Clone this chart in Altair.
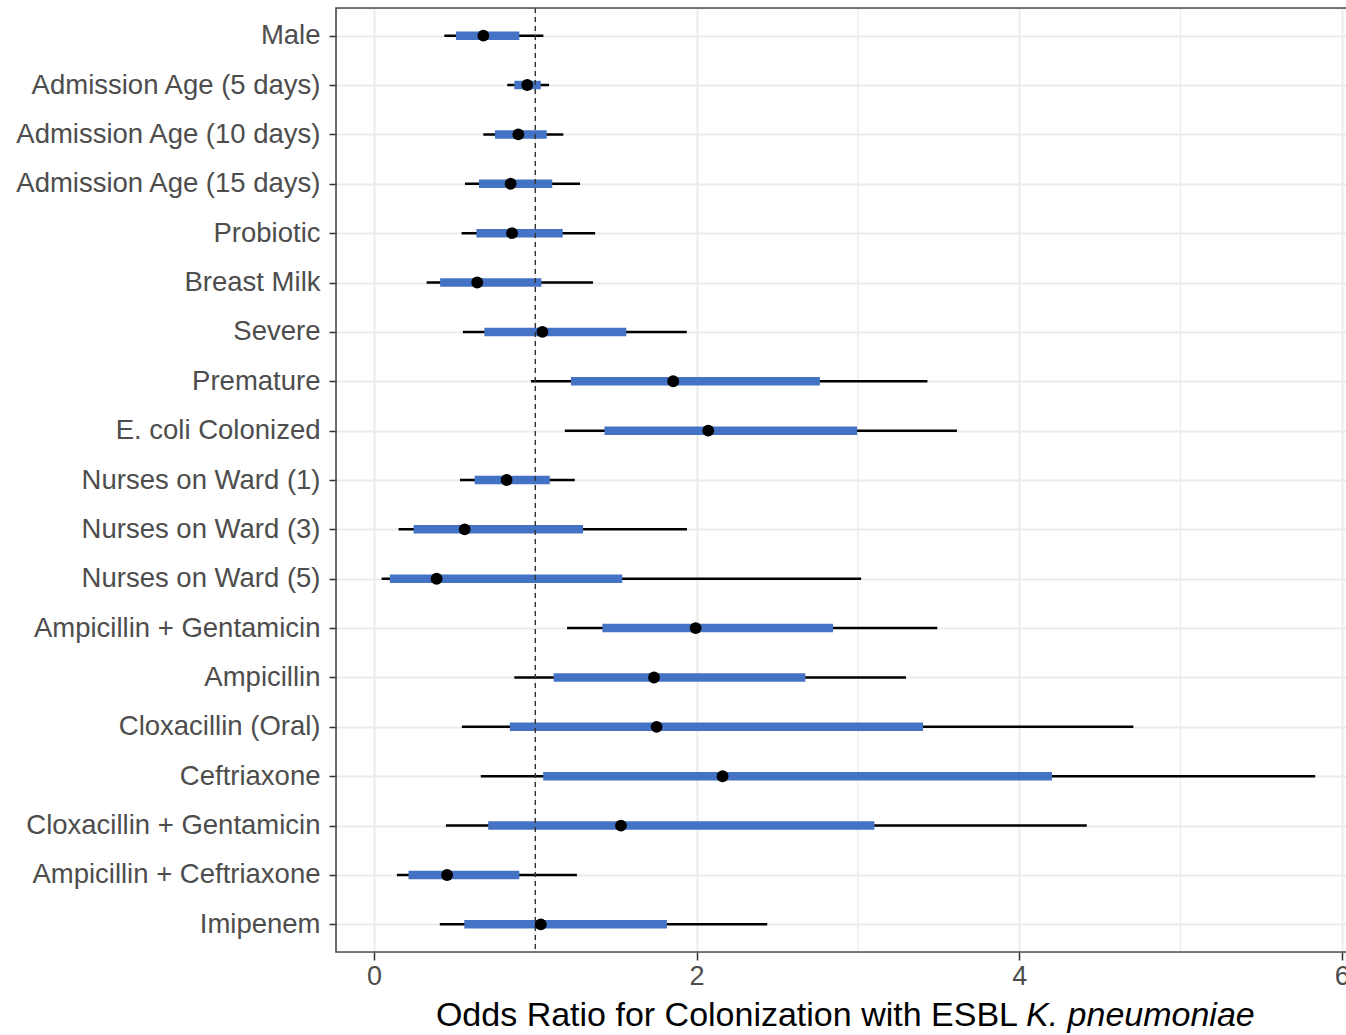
import altair as alt
import pandas as pd

labels = ["Male", "Admission Age (5 days)", "Admission Age (10 days)", "Admission Age (15 days)",
          "Probiotic", "Breast Milk", "Severe", "Premature", "E. coli Colonized",
          "Nurses on Ward (1)", "Nurses on Ward (3)", "Nurses on Ward (5)",
          "Ampicillin + Gentamicin", "Ampicillin", "Cloxacillin (Oral)", "Ceftriaxone",
          "Cloxacillin + Gentamicin", "Ampicillin + Ceftriaxone", "Imipenem"]
estimate = [0.678, 0.950, 0.895, 0.847, 0.856, 0.640, 1.044, 1.855, 2.072,
            0.822, 0.562, 0.388, 1.994, 1.736, 1.752, 2.161, 1.531, 0.453, 1.034]
lo95 = [0.436, 0.826, 0.678, 0.564, 0.543, 0.326, 0.551, 0.973, 1.183,
        0.533, 0.152, 0.047, 1.197, 0.870, 0.545, 0.662, 0.446, 0.142, 0.408]
hi95 = [1.050, 1.085, 1.174, 1.277, 1.371, 1.358, 1.939, 3.431, 3.614,
        1.245, 1.940, 3.020, 3.492, 3.298, 4.708, 5.835, 4.419, 1.258, 2.438]
lo50 = [0.508, 0.870, 0.750, 0.651, 0.635, 0.410, 0.684, 1.221, 1.429,
        0.624, 0.246, 0.098, 1.416, 1.114, 0.842, 1.049, 0.708, 0.214, 0.560]
hi50 = [0.901, 1.034, 1.071, 1.105, 1.170, 1.038, 1.564, 2.764, 2.995,
        1.090, 1.296, 1.539, 2.846, 2.674, 3.404, 4.203, 3.102, 0.901, 1.816]
major_ticks = [0, 2, 4, 6]
minor_ticks = [1, 3, 5]
null_value = [1]

df = pd.DataFrame({"label": labels, "est": estimate, "lo95": lo95, "hi95": hi95,
                   "lo50": lo50, "hi50": hi50})

FONT = "Liberation Sans"
xscale = alt.Scale(domain=[-0.2356, 6.026], nice=False, zero=False)
yscale = alt.Scale(type="point", padding=0.56)

x_axis = alt.Axis(values=major_ticks, format="d", title=None, grid=True, gridColor="#ebebeb",
                  gridWidth=2, domain=False, tickColor="#333333", tickSize=8,
                  tickWidth=1.5, labelFontSize=27, labelColor="#4d4d4d",
                  labelPadding=3, labelFont=FONT)
y_axis = alt.Axis(title=None, grid=True, gridColor="#ebebeb", gridWidth=2,
                  domain=False, tickColor="#333333", tickSize=7, tickWidth=1.5,
                  labelFontSize=27.5, labelColor="#4d4d4d", labelPadding=9,
                  labelLimit=500, labelFont=FONT)

base = alt.Chart(df)

thin = base.mark_rule(color="black", strokeWidth=2.5).encode(
    x=alt.X("lo95:Q", scale=xscale, axis=x_axis),
    x2="hi95:Q",
    y=alt.Y("label:N", sort=labels, scale=yscale, axis=y_axis),
)
thick = base.mark_rule(color="#4472C4", strokeWidth=8.5, strokeCap="butt").encode(
    x=alt.X("lo50:Q", scale=xscale),
    x2="hi50:Q",
    y=alt.Y("label:N", sort=labels, scale=yscale),
)
points = base.mark_circle(color="black", size=140, opacity=1).encode(
    x=alt.X("est:Q", scale=xscale),
    y=alt.Y("label:N", sort=labels, scale=yscale),
)
minor = alt.Chart(pd.DataFrame({"v": minor_ticks})).mark_rule(
    color="#ebebeb", strokeWidth=1.3).encode(x=alt.X("v:Q", scale=xscale))
dashed = alt.Chart(pd.DataFrame({"v": null_value})).mark_rule(
    color="#333333", strokeWidth=1.4, strokeDash=[5, 4]).encode(x=alt.X("v:Q", scale=xscale))
frame = alt.Chart(pd.DataFrame({"v": [0]})).mark_rect(
    fill=None, stroke="#4d4d4d", strokeWidth=1.6).encode(
    x=alt.value(0), x2=alt.value(1012), y=alt.value(0), y2=alt.value(944))

title_df = pd.DataFrame({"a": ["Odds Ratio for Colonization with ESBL"], "b": ["K. pneumoniae"]})
title1 = alt.Chart(title_df).mark_text(align="right", baseline="middle", fontSize=34,
                                       font=FONT, color="black").encode(
    text="a:N", x=alt.value(682), y=alt.value(1008))
title2 = alt.Chart(title_df).mark_text(align="left", baseline="middle", fontSize=34,
                                       font=FONT, fontStyle="italic", color="black").encode(
    text="b:N", x=alt.value(690), y=alt.value(1008))

chart = alt.layer(minor, thin, thick, dashed, points, frame, title1, title2).properties(
    width=1010, height=944,
    autosize=alt.AutoSizeParams(type="none"),
    padding={"left": 336, "top": 8, "right": 0, "bottom": 83},
).configure_view(stroke=None).configure(background="white")

chart.save("out.html", embed_options={"renderer": "svg", "actions": False})
